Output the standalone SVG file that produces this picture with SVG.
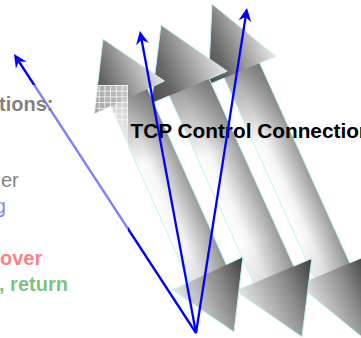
<svg xmlns="http://www.w3.org/2000/svg" xmlns:xlink="http://www.w3.org/1999/xlink" width="361" height="338" viewBox="0 0 361 338">
<style>
 .edge{fill:none;stroke:#bdf5f5;stroke-width:1;vector-effect:non-scaling-stroke}
 .conn{fill:none;stroke:#0000ff;stroke-width:2.3;marker-end:url(#ah)}
 .t{font-family:"Liberation Sans",Arial,sans-serif;font-size:20px}
 .b{font-weight:bold}
 .big{font-size:20.8px}
</style>
<defs>
 <linearGradient id="gHeadTop" x1="0" y1="0" x2="1" y2="0">
  <stop offset="0" stop-color="#4a4a4a"/><stop offset="0.3" stop-color="#676767"/><stop offset="1" stop-color="#e8e8e8"/>
 </linearGradient>
 <linearGradient id="gShaft" x1="0" y1="0" x2="1" y2="0">
  <stop offset="0" stop-color="#ffffff"/><stop offset="0.3" stop-color="#f5f5f5"/><stop offset="1" stop-color="#9a9a9a"/>
 </linearGradient>
 <linearGradient id="gShade" x1="0" y1="0" x2="0" y2="1">
  <stop offset="0" stop-color="#555555" stop-opacity="0.55"/><stop offset="0.35" stop-color="#555555" stop-opacity="0"/>
  <stop offset="0.8" stop-color="#555555" stop-opacity="0"/><stop offset="1" stop-color="#555555" stop-opacity="0.15"/>
 </linearGradient>
 <linearGradient id="gHeadBot" x1="0" y1="0" x2="1" y2="0">
  <stop offset="0" stop-color="#e8e8e8"/><stop offset="0.6" stop-color="#8a8a8a"/><stop offset="1" stop-color="#3c3c3c"/>
 </linearGradient>
 <g id="dblArrow">
  <path d="M0,0.19 H1 V0.81 H0 Z" fill="url(#gShaft)"/>
  <path d="M0,0.19 H1 V0.81 H0 Z" fill="url(#gShade)"/>
  <path d="M0.5,0 L1.45,0.2 L-0.45,0.2 Z" fill="url(#gHeadTop)"/>
  <path d="M-0.45,0.8 L1.45,0.8 L0.5,1 Z" fill="url(#gHeadBot)"/>
  <path class="edge" d="M0.5,0 L1.45,0.2 L1,0.2 L1,0.8 L1.45,0.8 L0.5,1 L-0.45,0.8 L0,0.8 L0,0.2 L-0.45,0.2 Z"/>
 </g>
 <clipPath id="clipA1">
  <path transform="matrix(37,-17.5,131,293,84.5,47.75)" d="M0.5,0 L1.45,0.2 L1,0.2 L1,0.8 L1.45,0.8 L0.5,1 L-0.45,0.8 L0,0.8 L0,0.2 L-0.45,0.2 Z"/>
 </clipPath>
 <pattern id="grid" width="5.7" height="5.7" patternUnits="userSpaceOnUse" x="93" y="85">
  <path d="M0,0.5 H5.7 M0.5,0 V5.7" stroke="#ffffff" stroke-width="1" opacity="0.75"/>
 </pattern>
 <marker id="ah" viewBox="0 -7 14 14" refX="4.5" refY="0" markerWidth="14" markerHeight="14" markerUnits="userSpaceOnUse" orient="auto">
  <path d="M0,-6.5 L13.5,0 L0,6.5 L4.5,0 Z" fill="#0000ff"/>
 </marker>
</defs>

<g id="arrow-3"><use href="#dblArrow" xlink:href="#dblArrow" transform="matrix(35.5,-15,150,333,194.25,11.5)"/></g>
<g id="arrow-2"><use href="#dblArrow" xlink:href="#dblArrow" transform="matrix(40,-17,141,312,141,33.5)"/></g>
<g id="arrow-1"><use href="#dblArrow" xlink:href="#dblArrow" transform="matrix(37,-17.5,131,293,84.5,47.75)"/></g>

<g id="label-tcp">
 <text class="t b big" x="130.5" y="138" fill="#000">TCP Control Connection</text>
</g>

<g id="connectors">
 <line class="conn" x1="196" y1="333" x2="18.9" y2="61.5"/>
 <line class="conn" x1="196" y1="333" x2="141.6" y2="39.8"/>
 <line class="conn" x1="196" y1="333" x2="245.6" y2="16.9"/>
</g>

<g id="left-text">
 <text class="t b" x="-1" y="111" fill="#000">tions:</text>
 <text class="t" x="1" y="187" fill="#000">er</text>
 <text class="t" x="-5.3" y="213" fill="#0000ff">g</text>
 <text class="t b" x="0" y="265" fill="#ff0000">over</text>
 <text class="t b" x="-1" y="291" fill="#008000">, return</text>
</g>

<g id="overlay">
 <rect x="0" y="85" width="128" height="253" fill="#ffffff" fill-opacity="0.5"/>
 <rect x="93" y="85" width="35" height="40" fill="url(#grid)" clip-path="url(#clipA1)"/>
</g>
</svg>
